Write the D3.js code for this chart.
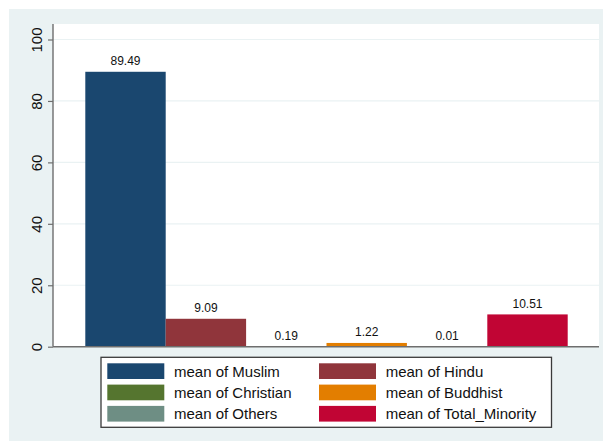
<!DOCTYPE html>
<html>
<head>
<meta charset="utf-8">
<script src="https://cdn.jsdelivr.net/npm/d3@7"></script>
<style>
  html, body { margin: 0; padding: 0; background: #ffffff; }
  svg { display: block; font-family: "Liberation Sans", Arial, sans-serif; }
</style>
</head>
<body>
<svg id="chart" width="603" height="441"></svg>
<script>
// Series shown as bars, one bar per variable
const seriesNames = ["Muslim", "Hindu", "Christian", "Buddhist", "Others", "Total_Minority"];
const seriesMeans = [89.49, 9.09, 0.19, 1.22, 0.01, 10.51];
const seriesColors = ["#1a476f", "#90353b", "#55752f", "#e37e00", "#6e8e84", "#c10534"];
const yTicks = [0, 20, 40, 60, 80, 100];

const svg = d3.select("#chart");

// graph region background
svg.append("rect")
  .attr("x", 9).attr("y", 9).attr("width", 594).attr("height", 432)
  .attr("fill", "#eaf2f3");

// plot region
const plot = { left: 53, right: 599, top: 24, bottom: 346.7 };
svg.append("rect")
  .attr("x", plot.left).attr("y", plot.top)
  .attr("width", plot.right - plot.left).attr("height", plot.bottom - plot.top)
  .attr("fill", "#ffffff");

const y = d3.scaleLinear().domain([0, 100]).range([346.7, 39.5]);
const x = d3.scaleBand().domain(seriesNames).range([85.3, 567.7]).padding(0);

// horizontal grid lines
svg.append("g").selectAll("line")
  .data(yTicks.filter(t => t > 0))
  .join("line")
  .attr("x1", plot.left).attr("x2", plot.right)
  .attr("y1", d => y(d)).attr("y2", d => y(d))
  .attr("stroke", "#eaf2f3").attr("stroke-width", 1.2);

// bars
const data = seriesNames.map((n, i) => ({ name: n, value: seriesMeans[i], color: seriesColors[i] }));
svg.append("g").selectAll("rect")
  .data(data)
  .join("rect")
  .attr("x", d => x(d.name))
  .attr("width", x.bandwidth())
  .attr("y", d => y(d.value))
  .attr("height", d => y(0) - y(d.value))
  .attr("fill", d => d.color);

// value labels above bars
svg.append("g").selectAll("text")
  .data(data)
  .join("text")
  .attr("x", d => x(d.name) + x.bandwidth() / 2)
  .attr("y", d => y(d.value) - 6.6)
  .attr("text-anchor", "middle")
  .attr("font-size", 12)
  .attr("fill", "#111")
  .text(d => d.value.toFixed(2));

// y axis
const yAxis = d3.axisLeft(y).tickValues(yTicks).tickSize(5).tickPadding(5).tickSizeOuter(0);
const gy = svg.append("g").attr("transform", `translate(${plot.left},0)`).call(yAxis);
gy.select(".domain").remove();
gy.selectAll(".tick line").attr("stroke", "#6e6e6e").attr("stroke-width", 1.2);
gy.selectAll(".tick text")
  .attr("font-size", 15)
  .attr("fill", "#111")
  .attr("font-family", "Liberation Sans, Arial, sans-serif")
  .attr("text-anchor", "middle")
  .attr("dy", null)
  .attr("x", null)
  .attr("transform", "translate(-16.5,0) rotate(-90)")
  .attr("dominant-baseline", "central");
svg.append("line")
  .attr("x1", plot.left).attr("x2", plot.left)
  .attr("y1", plot.top).attr("y2", plot.bottom)
  .attr("stroke", "#6e6e6e").attr("stroke-width", 1.4);

// x axis line
svg.append("line")
  .attr("x1", plot.left).attr("x2", plot.right)
  .attr("y1", y(0)).attr("y2", y(0))
  .attr("stroke", "#6e6e6e").attr("stroke-width", 1.4);

// legend
const legend = svg.append("g");
legend.append("rect")
  .attr("x", 101).attr("y", 357.3).attr("width", 450.5).attr("height", 70)
  .attr("fill", "#ffffff").attr("stroke", "#3a3a3a").attr("stroke-width", 1.3);
const colX = [107.3, 319];
const rowY = [363.3, 384.6, 405.9];
const items = legend.selectAll("g.item")
  .data(data)
  .join("g")
  .attr("class", "item")
  .attr("transform", (d, i) => `translate(${colX[i % 2]},${rowY[Math.floor(i / 2)]})`);
items.append("rect")
  .attr("width", 57).attr("height", 15.7)
  .attr("fill", d => d.color);
items.append("text")
  .attr("x", 66.7).attr("y", 13.5)
  .attr("font-size", 15)
  .attr("fill", "#111")
  .text(d => "mean of " + d.name);
</script>
</body>
</html>
